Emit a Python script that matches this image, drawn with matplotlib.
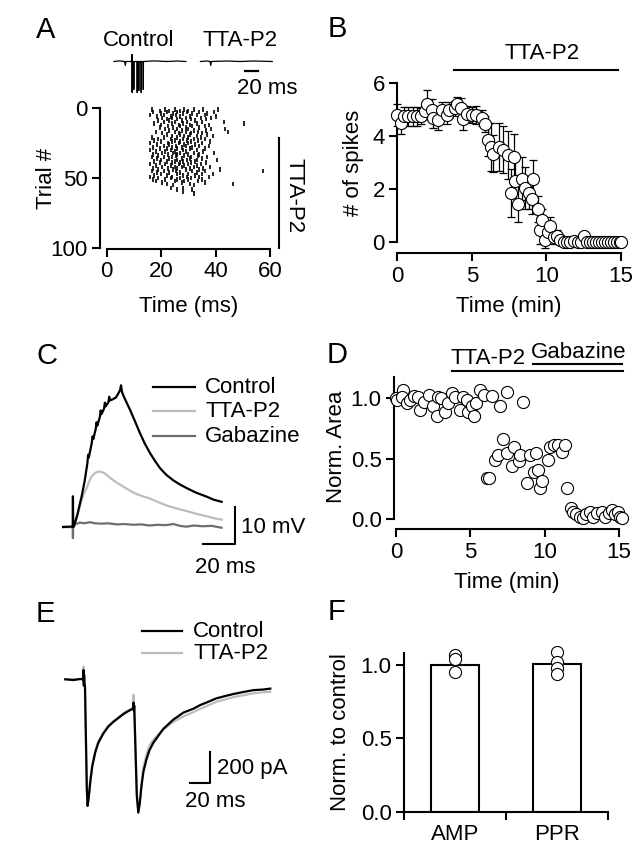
import matplotlib
matplotlib.use("Agg")
import matplotlib.pyplot as plt
from matplotlib.lines import Line2D
from matplotlib.transforms import Affine2D

plt.rcParams['font.family'] = ['Liberation Sans', 'DejaVu Sans']
plt.rcParams['font.size'] = 16
plt.rcParams['axes.linewidth'] = 1.5

LIGHT = '#bdbdbd'
DARK = '#6e6e6e'

# ---------------- data ----------------
# A: raster (trial number, spike times in ms)
raster_trial = list(range(1, 56)) + [57, 58, 60, 61]
raster_times = [
    [16.5, 21.5, 25, 28.5, 32, 35.5, 41], [19.5, 23, 27, 30], [17, 22, 26, 29.5, 34, 39.5],
    [20, 24.5, 28, 31.5, 37], [16, 21, 25.5, 33, 36], [18.5, 23.5, 27, 30.5, 40],
    [20.5, 24, 29, 34.5, 38.5], [22, 26, 31, 36.5], [19, 23, 27.5, 32.5],
    [21, 25, 29.5, 35, 43], [17.5, 24, 28, 33, 50.5], [20, 26.5, 30.5, 37.5],
    [22.5, 27, 31.5, 36], [19.5, 24.5, 29, 34], [21.5, 26, 30, 38.5, 43.5],
    [23, 27.5, 32, 36.5], [18, 25, 29, 33.5, 44.5], [20.5, 26.5, 31, 35],
    [22, 27, 30.5, 37], [24, 28.5, 33, 39], [16.5, 21, 26, 30, 34.5],
    [19, 23.5, 28, 32, 36], [17.5, 25, 29.5, 33.5], [20, 24, 27, 31, 38],
    [16, 22.5, 26.5, 30, 35], [18.5, 23, 28.5, 32.5], [21, 25.5, 29, 34, 37.5],
    [17, 24, 27.5, 31.5], [19.5, 22, 26, 30.5, 36], [16, 23.5, 28, 33],
    [18, 21.5, 25, 29, 35.5], [20.5, 24.5, 27, 32, 39.5], [17, 22.5, 26, 30, 34],
    [19, 25.5, 28.5, 33.5], [16.5, 21, 24, 31, 37], [18.5, 23, 27.5, 30.5, 35],
    [20, 26, 29.5, 33, 40.5], [17.5, 22, 25, 28, 32.5], [19.5, 24, 27, 31, 36.5],
    [16, 21.5, 26.5, 30, 34.5], [18, 23.5, 28.5, 33], [20.5, 25, 27.5, 32, 38],
    [17, 22.5, 26, 30.5, 35.5], [19, 24.5, 29, 34, 41.5], [16.5, 21, 25.5, 31.5, 36, 57.5],
    [18.5, 23, 27, 33], [20, 26, 30, 35, 39], [17.5, 22, 28, 32.5],
    [16, 24, 29.5, 34, 37.5], [19, 23.5, 27, 31], [17, 21.5, 26, 30, 35],
    [18, 25, 28.5, 33.5], [20.5, 27.5, 36], [22, 30.5, 46.5], [24.5, 32],
    [23.5, 28], [26, 31.5], [28.2], [31.9],
]

# A: example extracellular traces (ms, a.u.)
ctrl_t = [0, 8, 16, 17, 18, 26.5, 27.0, 27.3, 27.6, 29.5, 29.8, 30.1, 34.6, 34.9, 35.2,
          37.0, 37.3, 37.6, 40.6, 40.9, 41.2, 43.7, 44.0, 44.3, 60, 80, 95, 108]
ctrl_v = [0, 0.6, 0, -4, 0, 0, 7, -31, 0, 0, -28, 0, 0, -31, 0,
          0, -29, 0, 0, -31, 0, 0, -28, 0, 0.6, 0, 0.5, 0]
tta_t = [0, 10, 14.5, 15.4, 16.5, 40, 60, 80, 108]
tta_v = [0, 0.5, 0, -4, 0, 0.5, 0, 0.5, 0]

# B: spikes vs time
b_t = [0.0, 0.25, 0.45, 0.75, 1.05, 1.35, 1.6, 1.85, 2.0, 2.3, 2.4, 2.75, 3.0, 3.3, 3.5,
       3.85, 4.0, 4.3, 4.4, 4.65, 5.0, 5.3, 5.65, 5.9, 6.1, 6.3, 6.45, 6.8, 7.1, 7.45,
       7.8, 7.65, 7.9, 8.1, 8.35, 8.55, 8.8, 9.0, 9.1, 9.45, 9.55, 9.7, 9.9, 10.1, 10.25,
       10.5, 10.7, 10.9, 11.15, 11.4, 11.6, 11.85, 12.1, 12.3, 12.5, 12.7, 12.9, 13.1,
       13.3, 13.5, 13.7, 13.9, 14.1, 14.3, 14.5, 14.7, 14.9, 15.0]
b_v = [4.8, 4.5, 4.75, 4.75, 4.75, 4.75, 4.75, 4.95, 5.2, 5.0, 4.7, 4.6, 5.0, 4.8, 5.0,
       5.05, 5.2, 5.05, 4.65, 4.85, 4.8, 4.8, 4.7, 4.45, 3.85, 3.6, 3.35, 3.6, 3.5, 3.3,
       3.2, 1.85, 2.3, 1.45, 2.4, 2.05, 1.85, 1.65, 2.4, 1.25, 0.45, 0.85, 0.1, 0.4, 0.6,
       0.2, 0.25, 0.1, 0.0, 0.0, 0.0, 0.05, 0.0, 0.0, 0.25, 0.0, 0.0, 0.0,
       0.0, 0.0, 0.0, 0.0, 0.0, 0.0, 0.0, 0.0, 0.0, 0.0]
b_err = [0.4, 0.4, 0.35, 0.35, 0.35, 0.35, 0.3, 0.3, 0.55, 0.4, 0.4, 0.35, 0.3, 0.35, 0.3,
         0.3, 0.3, 0.4, 0.4, 0.3, 0.3, 0.35, 0.3, 0.3, 0.6, 0.9, 0.7, 0.9, 0.9, 0.9,
         0.9, 0.9, 0.9, 0.7, 0.8, 0.8, 0.6, 0.6, 0.7, 0.5, 0.5, 0.4, 0.3, 0.3, 0.35,
         0.25, 0.2, 0.15, 0.1, 0, 0, 0, 0, 0, 0.1, 0, 0, 0,
         0, 0, 0, 0, 0, 0, 0, 0, 0, 0]

# C: IPSP traces (ms, mV)
c_ctrl_t = [-6, -1, 0, 0.15, 0.3, 0.8, 3, 5.6, 7.5, 9.2, 9.6, 10.1, 11.9, 12.4, 12.9, 14.4,
            14.9, 15.4, 17.0, 17.5, 18.0, 19.6, 20.1, 20.6, 22.3, 22.8, 23.3, 25, 27, 28.4,
            29.6, 30.2, 30.8, 32, 35.8, 39, 42, 45, 48.3, 51.5, 54.6, 58.5, 62.9, 67, 71.3,
            77, 83.75, 88, 93.1]
c_ctrl_v = [0, 0.1, 0, 8.3, 0, 0.2, 3.5, 8.3, 12.5, 17.3, 19.5, 18.8, 22.7, 24.5, 23.8, 26.5,
            28.3, 27.4, 29.8, 31.5, 30.5, 32.0, 33.6, 32.6, 33.7, 35.2, 34.2, 34.5, 35.0, 36.0,
            37.0, 38.3, 36.5, 35.2, 31.7, 28.5, 25.4, 22.6, 20, 17.8, 15.9, 14.1, 12.6, 11.5, 10.5,
            9.3, 8.2, 7.4, 6.8]
c_tta_t = [-6, 0, 0.8, 3, 5, 7, 8.75, 10.5, 11.9, 14, 16, 18, 20, 23, 27.5, 32, 37.9, 43,
           48.3, 53, 58.75, 65, 71.3, 77, 83.75, 88, 93.1]
c_tta_v = [0, 0, 0, 3, 6.5, 9, 10.6, 12.5, 13.7, 14.6, 15.0, 14.9, 14.5, 13.4, 12, 10.8, 9.3,
           8.4, 7.7, 6.8, 5.8, 5.0, 4.3, 3.6, 2.9, 2.4, 2.0]
c_gbz_t = [-6, 0, 0.15, 0.3, 2, 4.6, 7, 10.8, 14, 18, 22, 27.5, 32, 38, 43, 48, 53, 58, 63,
           67, 71, 76, 81, 87, 93]
c_gbz_v = [0, 0, -3, 0.3, 0.8, 1.2, 1.0, 1.3, 1.0, 0.9, 1.0, 0.7, 0.8, 0.6, 0.7, 0.4, 0.6,
           0.5, 0.8, 0.3, 0.1, 0.4, 0.2, 0.3, -0.2]

# D: normalised area vs time
d_t = [0.0, 0.1, 0.45, 0.4, 0.75, 0.95, 1.2, 1.5, 1.6, 1.85, 2.2, 2.5, 2.75, 2.85, 3.05,
       3.3, 3.5, 3.75, 3.95, 4.3, 4.5, 4.75, 4.85, 5.1, 5.25, 5.4, 5.65, 5.9, 6.45, 7.0,
       7.45, 8.55,
       6.1, 6.25, 6.65, 6.85, 7.2, 7.45, 7.8, 7.95, 8.25, 8.35, 8.8, 9.0, 9.25, 9.45, 9.55,
       9.7, 9.8, 10.25, 10.35, 10.6, 10.9, 11.15, 11.35, 11.5,
       11.75, 11.9, 12.1, 12.35, 12.55, 12.8, 13.05, 13.25, 13.55, 13.85, 14.05, 14.3,
       14.5, 14.75, 14.9, 15.05, 15.2]
d_v = [1.0, 0.99, 1.07, 1.01, 0.96, 0.99, 1.02, 1.01, 0.9, 0.97, 1.03, 0.94, 0.85, 1.01, 1.0,
       0.89, 0.96, 1.04, 1.01, 0.9, 1.01, 0.99, 0.89, 0.94, 0.85, 0.96, 1.07, 1.03, 1.02, 0.94,
       1.05, 0.97,
       0.34, 0.34, 0.49, 0.53, 0.66, 0.55, 0.44, 0.6, 0.48, 0.53, 0.3, 0.53, 0.39, 0.55, 0.41,
       0.26, 0.32, 0.49, 0.6, 0.61, 0.61, 0.56, 0.61, 0.26,
       0.09, 0.06, 0.04, 0.02, 0.01, 0.04, 0.06, 0.02, 0.05, 0.06, 0.02, 0.05,
       0.08, 0.04, 0.06, 0.02, 0.01]

# E: EPSCs (ms, pA)
e_ctrl_t = [-18, -10, -3, 0, 0.2, 0.5, 0.8, 1.2, 1.7, 3.5, 4.3, 5.5, 7, 9, 12, 15, 20, 25, 30,
            35, 40, 45, 49.5, 50, 50.2, 50.5, 51, 51.5, 53.5, 55, 56.5, 58, 60, 63, 66, 70,
            75, 80, 85, 90, 95, 100, 110, 117, 125, 133, 142, 150, 160, 170, 180, 187]
e_ctrl_v = [0, -5, 2, 0, 60, -40, 30, -20, -50, -700, -817, -760, -660, -560, -470, -410,
            -350, -305, -275, -250, -225, -205, -190, -190, -150, -200, -170, -300, -750,
            -860, -800, -700, -600, -520, -460, -410, -365, -320, -290, -260, -238, -215,
            -190, -166, -145, -123, -108, -95, -82, -70, -66, -60]
e_tta_t = [-18, -3, 0, 0.2, 0.5, 1.7, 3.5, 4.3, 5.5, 7, 9, 12, 15, 20, 25, 30, 35, 40, 45,
           49.5, 50, 50.2, 50.6, 51.5, 53.5, 55, 56.5, 58, 60, 63, 66, 70, 75, 80, 85, 90,
           100, 110, 117, 125, 133, 142, 150, 160, 170, 180, 187]
e_tta_v = [0, 2, 0, 82, -20, -50, -690, -805, -750, -650, -550, -460, -400, -345, -300,
           -270, -245, -220, -200, -185, -185, -100, -190, -290, -740, -850, -780, -680,
           -570, -490, -430, -390, -355, -325, -300, -275, -240, -212, -190, -168, -145,
           -130, -115, -103, -90, -84, -80]

# F: normalised to control
f_labels = ['AMP', 'PPR']
f_means = [1.0, 1.01]
f_amp_pts = [1.07, 1.04, 0.95]
f_ppr_pts = [1.09, 1.02, 0.98, 0.94]

# ---------------- layout helpers ----------------
W, H = 642, 855
fig = plt.figure(figsize=(W / 100, H / 100), dpi=100)
px = Affine2D().scale(1 / W, -1 / H).translate(0, 1) + fig.transFigure


def place(xd, xp, yd, yp, xlim, ylim):
    sx = (xp[1] - xp[0]) / (xd[1] - xd[0])
    sy = (yp[1] - yp[0]) / (yd[1] - yd[0])
    x0 = xp[0] + (xlim[0] - xd[0]) * sx
    x1 = xp[0] + (xlim[1] - xd[0]) * sx
    yb = yp[0] + (ylim[0] - yd[0]) * sy
    yt = yp[0] + (ylim[1] - yd[0]) * sy
    ax = fig.add_axes([x0 / W, 1 - yb / H, (x1 - x0) / W, (yb - yt) / H])
    ax.set_xlim(xlim)
    ax.set_ylim(ylim)
    return ax


def style(ax, left_at, bottom_at, ybounds, xbounds):
    ax.spines['top'].set_visible(False)
    ax.spines['right'].set_visible(False)
    ax.spines['left'].set_position(('data', left_at))
    ax.spines['bottom'].set_position(('data', bottom_at))
    ax.spines['left'].set_bounds(*ybounds)
    ax.spines['bottom'].set_bounds(*xbounds)
    ax.tick_params(length=6, width=1.5, pad=3, labelsize=16)
    ax.patch.set_visible(False)


def label(x, y, s, **kw):
    fig.text(x, y, s, transform=px, ha='center', va='center', **kw)


def legend_px(x0, x1, ys, labels, colors, tx):
    for y, lab, c in zip(ys, labels, colors):
        fig.add_artist(Line2D([x0, x1], [y, y], transform=px, color=c, lw=1.6))
        fig.text(tx, y, lab, transform=px, ha='left', va='center', fontsize=16)


mk = dict(marker='o', ls='none', mfc='white', mec='black', mew=0.8, ms=8.7, clip_on=False)

# ---------------- A ----------------
axt = place((0, 20), (114, 127.3), (0, -31.5), (61.5, 93), (-20, 260), (-40, 15))
axt.axis('off')
axt.plot(ctrl_t, ctrl_v, color='k', lw=0.9)
axt.plot([t + 130 for t in tta_t], tta_v, color='k', lw=0.9)
axt.plot([197, 217], [-9.5, -9.5], color='k', lw=1.6)
label(139, 41, 'Control')
label(240, 41, 'TTA-P2')
label(267, 89, '20 ms')

axa = place((0, 60), (106.7, 270), (0, 100), (108, 248.3), (-3, 61), (100.3, -2))
style(axa, -2.47, 100.3, (0, 100), (0, 60))
for tr, times in zip(raster_trial, raster_times):
    axa.vlines(times, tr - 1.6, tr + 1.6, color='k', lw=1.2)
axa.set_xticks([0, 20, 40, 60])
axa.set_yticks([0, 50, 100])
axa.plot([63.4, 63.4], [21.4, 100], color='k', lw=1.5, clip_on=False)
label(294, 196, 'TTA-P2', rotation=270)
label(47, 178, 'Trial #', rotation=90)
label(189, 306, 'Time (ms)')

# ---------------- B ----------------
axb = place((0, 15), (397.3, 621), (0, 6), (242.3, 83.3), (-0.5, 15.5), (-0.415, 6.3))
style(axb, 0, -0.415, (0, 6), (0, 15))
axb.errorbar(b_t, b_v, yerr=b_err, fmt='none', ecolor='k', elinewidth=0.9,
             capsize=3, capthick=0.9, zorder=2, clip_on=False)
axb.plot(b_t, b_v, zorder=3, **mk)
axb.set_xticks([0, 5, 10, 15])
axb.set_yticks([0, 2, 4, 6])
axb.plot([3.83, 14.83], [6.49, 6.49], color='k', lw=1.5, clip_on=False)
axb.text(9.7, 7.13, 'TTA-P2', ha='center', va='center')
label(353, 163, '# of spikes', rotation=90)
label(509, 306, 'Time (min)')

# ---------------- C ----------------
axc = place((0, 20), (72.7, 104.7), (0, 10), (527, 490), (-45, 150), (-20, 53))
axc.axis('off')
axc.plot(c_gbz_t, c_gbz_v, color=DARK, lw=1.6)
axc.plot(c_tta_t, c_tta_v, color=LIGHT, lw=1.6)
axc.plot(c_ctrl_t, c_ctrl_v, color='k', lw=1.6)
axc.plot([81.4, 101.4, 101.4], [-4.6, -4.6, 5.4], color='k', lw=1.5)
legend_px(153, 195, [387, 411, 436], ['Control', 'TTA-P2', 'Gabazine'], ['k', LIGHT, DARK], 205)
fig.text(241, 527, '10 mV', transform=px, ha='left', va='center')
label(225, 567, '20 ms')

# ---------------- D ----------------
axd = place((0, 15), (396, 619), (0, 1), (519.3, 398.3), (-0.5, 15.5), (-0.083, 1.2))
style(axd, -0.13, -0.083, (0, 1.18), (0, 15))
axd.plot(d_t, d_v, zorder=3, **mk)
axd.set_xticks([0, 5, 10, 15])
axd.set_yticks([0, 0.5, 1.0])
axd.set_yticklabels(['0.0', '0.5', '1.0'])
axd.plot([3.8, 15.3], [1.226, 1.226], color='k', lw=1.5, clip_on=False)
axd.plot([9.24, 15.2], [1.28, 1.28], color='k', lw=1.5, clip_on=False)
axd.text(6.2, 1.33, 'TTA-P2', ha='center', va='center')
axd.text(12.3, 1.38, 'Gabazine', ha='center', va='center')
label(337, 447, 'Norm. Area', rotation=90)
label(507, 582, 'Time (min)')

# ---------------- E ----------------
axe = place((0, 20), (83.3, 103.3), (0, 200), (679.3, 648.3), (-80, 240), (-1200, 500))
axe.axis('off')
axe.plot(e_tta_t, e_tta_v, color=LIGHT, lw=1.6)
axe.plot(e_ctrl_t, e_ctrl_v, color='k', lw=1.6)
axe.plot([106.7, 126.7, 126.7], [-669, -669, -469], color='k', lw=1.5)
legend_px(142, 182, [631, 653], ['Control', 'TTA-P2'], ['k', LIGHT], 193)
fig.text(217, 768, '200 pA', transform=px, ha='left', va='center')
label(215, 801, '20 ms')

# ---------------- F ----------------
axf = place((0, 1), (455, 557), (0, 1), (811.7, 665), (-0.6, 1.6), (0, 1.15))
style(axf, -0.5, 0, (0, 1.08), (-0.5, 1.5))
axf.bar([0, 1], f_means, width=0.48, color='white', edgecolor='k', lw=1.5, zorder=2)
axf.plot([0] * len(f_amp_pts), f_amp_pts, zorder=3, **mk)
axf.plot([1] * len(f_ppr_pts), f_ppr_pts, zorder=3, **mk)
axf.spines['bottom'].set_zorder(4)
axf.set_xticks([0, 1])
axf.set_xticklabels(f_labels)
axf.tick_params(axis='x', which='major', length=0, pad=9)
axf.set_xticks([-0.5, 0.5, 1.5], minor=True)
axf.tick_params(axis='x', which='minor', length=6, width=1.5)
axf.set_yticks([0, 0.5, 1.0])
axf.set_yticklabels(['0.0', '0.5', '1.0'])
label(341, 732, 'Norm. to control', rotation=90)

# panel letters
for s, x, y in [('A', 46, 30), ('B', 337, 29), ('C', 47, 356),
                ('D', 337, 355), ('E', 45, 614), ('F', 337, 612)]:
    label(x, y, s, fontsize=21)

fig.savefig('out.png', dpi=100)
